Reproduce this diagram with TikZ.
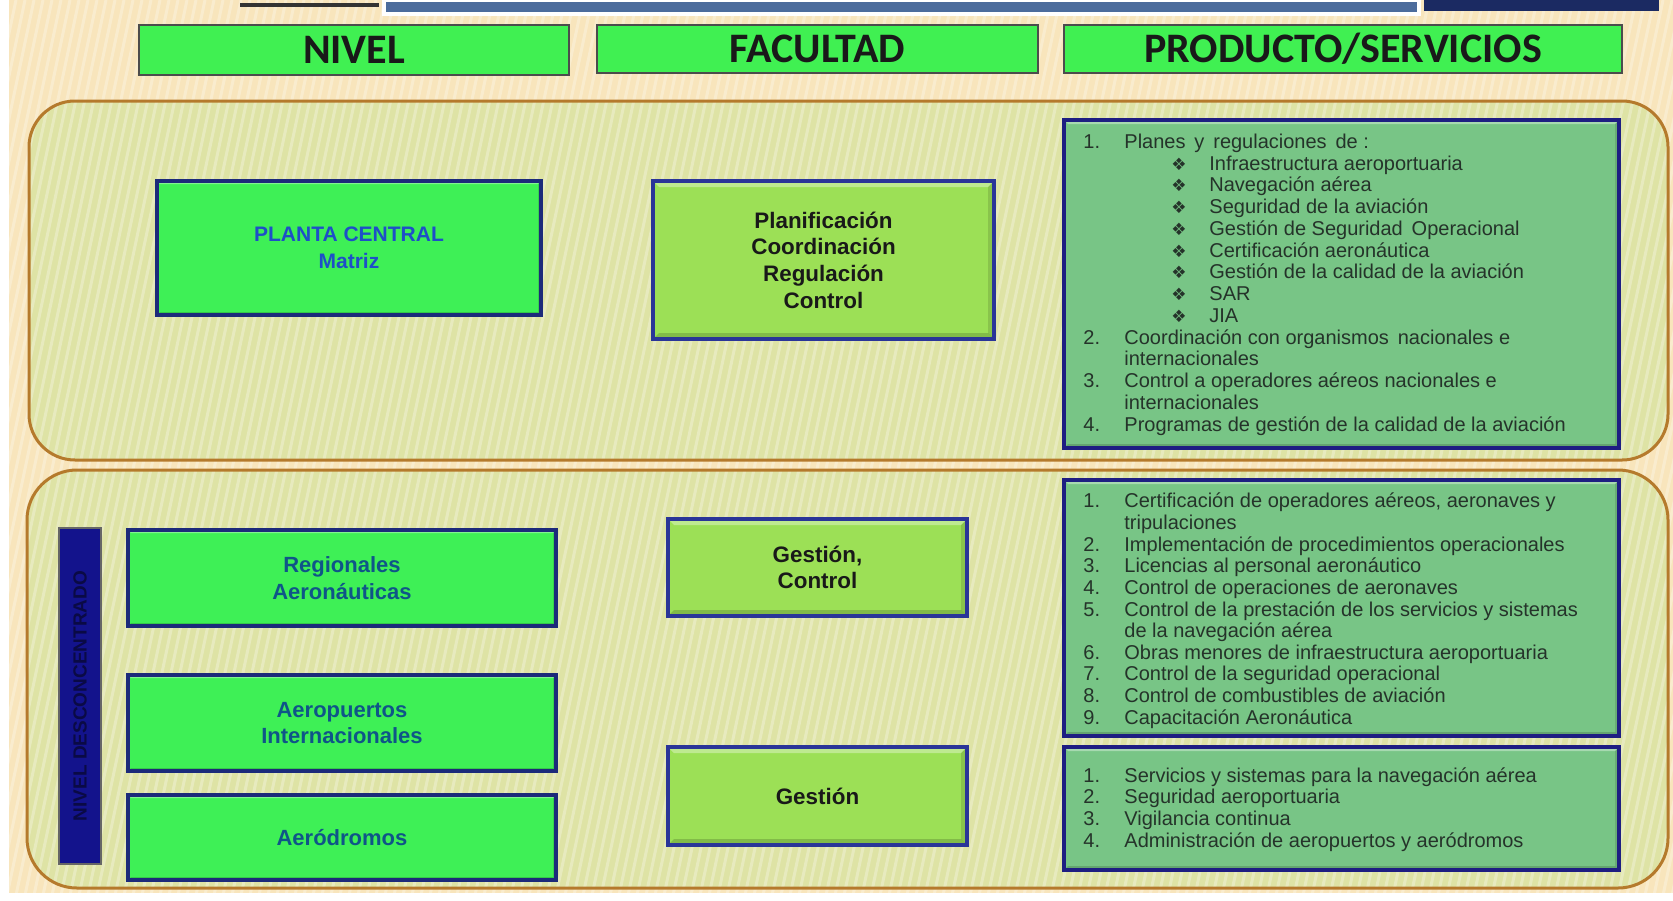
\documentclass[tikz,border=0pt]{standalone}
\usepackage{fontspec}
\setmainfont{Liberation Sans}
\newfontfamily\headfont{Carlito}
\newfontfamily\symfont{DejaVu Sans}

\definecolor{cream}{HTML}{F8E5BC}
\definecolor{panelfill}{HTML}{DEE3A5}
\definecolor{paneledge}{HTML}{B57A2C}
\definecolor{hdrgreen}{HTML}{40F052}
\definecolor{brightgreen}{HTML}{3EF056}
\definecolor{navyedge}{HTML}{1C2A7A}
\definecolor{facgreen}{HTML}{9CE056}
\definecolor{facedge}{HTML}{2A3598}
\definecolor{listgreen}{HTML}{78C586}
\definecolor{listedge}{HTML}{1E1E82}
\definecolor{listtext}{HTML}{25332A}
\definecolor{tealblue}{HTML}{0F5588}
\definecolor{plantablue}{HTML}{1E4FC8}
\definecolor{barblue}{HTML}{13138C}
\definecolor{bartext}{HTML}{0A0A45}
\definecolor{bandblue}{HTML}{4C6C9C}
\definecolor{banddark}{HTML}{1B2A62}

\begin{document}
\begin{tikzpicture}[x=0.5pt,y=-0.5pt,
  bevel/.style={path picture={
    \fill[white,opacity=0.35] (path picture bounding box.north west)
      -- (path picture bounding box.north east)
      -- ([xshift=-#1,yshift=-#1]path picture bounding box.north east)
      -- ([xshift=#1,yshift=-#1]path picture bounding box.north west) -- cycle;
    \fill[black,opacity=0.16] (path picture bounding box.south west)
      -- (path picture bounding box.south east)
      -- ([xshift=-#1,yshift=#1]path picture bounding box.south east)
      -- ([xshift=#1,yshift=#1]path picture bounding box.south west) -- cycle;
    \fill[black,opacity=0.12] (path picture bounding box.north east)
      -- (path picture bounding box.south east)
      -- ([xshift=-#1,yshift=#1]path picture bounding box.south east)
      -- ([xshift=-#1,yshift=-#1]path picture bounding box.north east) -- cycle;
  }},
  hdr/.style={fill=hdrgreen, draw=black!70, line width=0.8pt, inner sep=0pt,
    font=\headfont\bfseries\fontsize{21}{24}\selectfont, text=black!90},
  lvbox/.style={fill=brightgreen, draw=navyedge, line width=1.6pt, inner sep=0pt,
    bevel=1.5pt, align=center, text=tealblue, font=\bfseries\fontsize{11}{13.3}\selectfont},
  facbox/.style={fill=facgreen, draw=facedge, line width=2pt, inner sep=0pt,
    bevel=3pt, align=center, text=black!90, font=\bfseries\fontsize{11.2}{13.3}\selectfont},
  listbox/.style={fill=listgreen, draw=listedge, line width=1.8pt, inner sep=0pt, bevel=2pt},
  li/.style={anchor=mid west, inner sep=0pt, text=listtext,
    font=\fontsize{10}{11}\selectfont},
  bul/.style={anchor=mid west, inner sep=0pt, text=listtext,
    font=\symfont\fontsize{8.5}{9}\selectfont},
  stripe/.style={white, opacity=0.28, line width=1.5pt}
]
\useasboundingbox (0,0) rectangle (1673,900);

% background and the two level panels
\fill[cream] (0,0) rectangle (1673,900);
\fill[panelfill, rounded corners=23pt] (29,101) rectangle (1668,460);
\fill[panelfill, rounded corners=25pt] (27,470) rectangle (1668,888);

% light diagonal texture
\begin{scope}
  \clip (0,0) rectangle (1673,900);
  \foreach \k in {-300,-291,...,1680}
    \draw[stripe] (\k,900) -- ++(190,-900);
\end{scope}

\draw[paneledge, line width=1.5pt, rounded corners=23pt] (29,101) rectangle (1668,460);
\draw[paneledge, line width=1.5pt, rounded corners=25pt] (27,470) rectangle (1668,888);

% page edges
\fill[white] (0,0) rectangle (9,900);
\fill[white] (0,893) rectangle (1673,900);

% header strip
\fill[black!80] (240,3) rectangle (379,7);
\fill[white] (382,0) rectangle (1421,16);
\fill[bandblue] (386,2) rectangle (1417,12);
\fill[banddark] (1424,0) rectangle (1659,11);

% column headers
\node[hdr, minimum width=215pt, minimum height=25pt] (hnivel) at (354,50) {NIVEL};
\node[hdr, minimum width=220.5pt, minimum height=24pt] (hfac) at (817.5,49) {FACULTAD};
\node[hdr, minimum width=279pt, minimum height=24pt] (hprod) at (1343,49) {PRODUCTO/SERVICIOS};

% central level
\node[lvbox, text=plantablue, font=\bfseries\fontsize{10.5}{13.3}\selectfont,
  minimum width=192pt, minimum height=67pt] (planta) at (349,248) {PLANTA CENTRAL\\Matriz};
\node[facbox, minimum width=170.5pt, minimum height=79pt] (planif) at (823.5,260)
  {Planificación\\Coordinación\\Regulación\\Control};
\node[listbox, minimum width=277.5pt, minimum height=164pt] (list1) at (1341.5,284) {};

\node[li] (n1a) at (1083,143) {1.};
\node[li] (t1a) at (1124,143) {Planes\, y\, regulaciones\, de :};
\node[bul] (b1) at (1171,164.75) {❖};
\node[li] (s1) at (1209,164.75) {Infraestructura aeroportuaria};
\node[bul] (b2) at (1171,186.5) {❖};
\node[li] (s2) at (1209,186.5) {Navegación aérea};
\node[bul] (b3) at (1171,208.25) {❖};
\node[li] (s3) at (1209,208.25) {Seguridad de la aviación};
\node[bul] (b4) at (1171,230) {❖};
\node[li] (s4) at (1209,230) {Gestión de Seguridad\, Operacional};
\node[bul] (b5) at (1171,251.75) {❖};
\node[li] (s5) at (1209,251.75) {Certificación aeronáutica};
\node[bul] (b6) at (1171,273.5) {❖};
\node[li] (s6) at (1209,273.5) {Gestión de la calidad de la aviación};
\node[bul] (b7) at (1171,295.25) {❖};
\node[li] (s7) at (1209,295.25) {SAR};
\node[bul] (b8) at (1171,317) {❖};
\node[li] (s8) at (1209,317) {JIA};
\node[li] (n1b) at (1083,338.75) {2.};
\node[li] (t1b) at (1124,338.75) {Coordinación con organismos\, nacionales e};
\node[li] (t1b2) at (1124,360.5) {internacionales};
\node[li] (n1c) at (1083,382.25) {3.};
\node[li] (t1c) at (1124,382.25) {Control a operadores aéreos nacionales e};
\node[li] (t1c2) at (1124,404) {internacionales};
\node[li] (n1d) at (1083,425.75) {4.};
\node[li] (t1d) at (1124,425.75) {Programas de gestión de la calidad de la aviación};

% decentralised level
\node[fill=barblue, draw=black!60, line width=0.6pt, inner sep=0pt,
  minimum width=21pt, minimum height=168pt] (bar) at (80,696) {};
\node[rotate=90, text=bartext, font=\bfseries\fontsize{9.5}{11}\selectfont,
  inner sep=0pt] (bartxt) at (bar.center) {NIVEL DESCONCENTRADO};

\node[lvbox, minimum width=214pt, minimum height=48pt] (reg) at (342,578)
  {Regionales\\Aeronáuticas};
\node[lvbox, minimum width=214pt, minimum height=48pt] (aer) at (342,723)
  {Aeropuertos\\Internacionales};
\node[lvbox, minimum width=214pt, minimum height=42.5pt] (aero) at (342,837.5)
  {Aeródromos};

\node[facbox, minimum width=149.5pt, minimum height=48.5pt] (gc) at (817.5,567.5)
  {Gestión,\\Control};
\node[facbox, minimum width=149.5pt, minimum height=49pt] (g) at (817.5,796)
  {Gestión};

\node[listbox, minimum width=277.5pt, minimum height=128pt] (list2) at (1341.5,608) {};
\node[li] (n2a) at (1083,502.5) {1.};
\node[li] (t2a) at (1124,502.5) {Certificación de operadores aéreos, aeronaves y};
\node[li] (t2a2) at (1124,524.15) {tripulaciones};
\node[li] (n2b) at (1083,545.8) {2.};
\node[li] (t2b) at (1124,545.8) {Implementación de procedimientos operacionales};
\node[li] (n2c) at (1083,567.45) {3.};
\node[li] (t2c) at (1124,567.45) {Licencias al personal aeronáutico};
\node[li] (n2d) at (1083,589.1) {4.};
\node[li] (t2d) at (1124,589.1) {Control de operaciones de aeronaves};
\node[li] (n2e) at (1083,610.75) {5.};
\node[li] (t2e) at (1124,610.75) {Control de la prestación de los servicios y sistemas};
\node[li] (t2e2) at (1124,632.4) {de la navegación aérea};
\node[li] (n2f) at (1083,654.05) {6.};
\node[li] (t2f) at (1124,654.05) {Obras menores de infraestructura aeroportuaria};
\node[li] (n2g) at (1083,675.7) {7.};
\node[li] (t2g) at (1124,675.7) {Control de la seguridad operacional};
\node[li] (n2h) at (1083,697.35) {8.};
\node[li] (t2h) at (1124,697.35) {Control de combustibles de aviación};
\node[li] (n2i) at (1083,719) {9.};
\node[li] (t2i) at (1124,719) {Capacitación Aeronáutica};

\node[listbox, minimum width=277.5pt, minimum height=61.5pt] (list3) at (1341.5,808.5) {};
\node[li] (n3a) at (1083,776.7) {1.};
\node[li] (t3a) at (1124,776.7) {Servicios y sistemas para la navegación aérea};
\node[li] (n3b) at (1083,798.4) {2.};
\node[li] (t3b) at (1124,798.4) {Seguridad aeroportuaria};
\node[li] (n3c) at (1083,820.1) {3.};
\node[li] (t3c) at (1124,820.1) {Vigilancia continua};
\node[li] (n3d) at (1083,841.8) {4.};
\node[li] (t3d) at (1124,841.8) {Administración de aeropuertos y aeródromos};
\end{tikzpicture}
\end{document}
